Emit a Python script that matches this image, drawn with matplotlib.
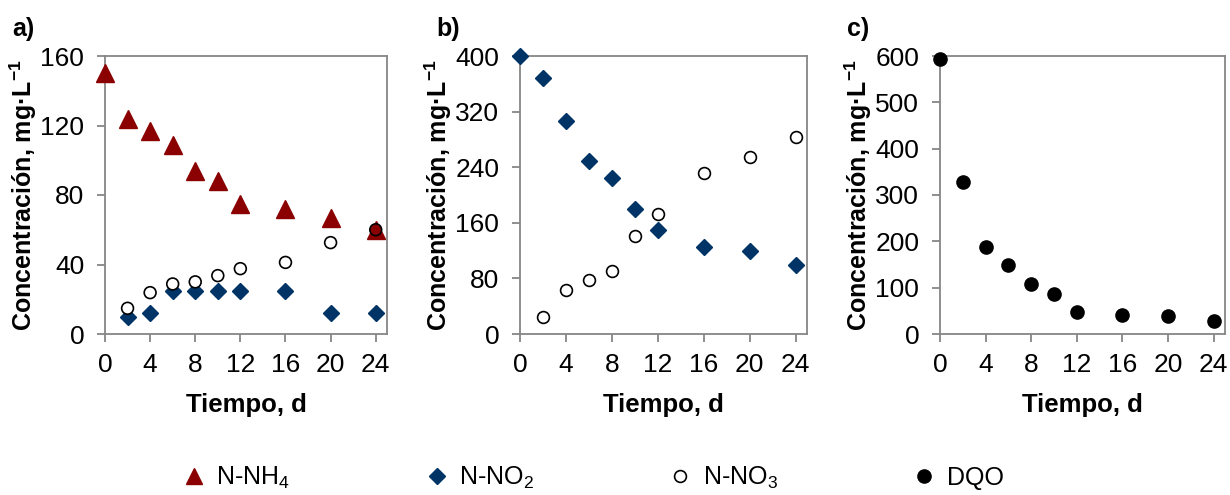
import matplotlib
matplotlib.use("Agg")
import matplotlib.pyplot as plt
from matplotlib.lines import Line2D

plt.rcParams['font.family'] = ['Liberation Sans', 'DejaVu Sans']
plt.rcParams['mathtext.fontset'] = 'custom'
plt.rcParams['mathtext.rm'] = 'Liberation Sans'
plt.rcParams['mathtext.it'] = 'Liberation Sans:italic'
plt.rcParams['mathtext.bf'] = 'Liberation Sans:bold'

# ---- data ----
t_a = [0, 2, 4, 6, 8, 10, 12, 16, 20, 24]
nh4_a = [150, 123.5, 117, 109, 94, 88, 75, 72, 66.6, 60]
t_a2 = [2, 4, 6, 8, 10, 12, 16, 20, 24]
no2_a = [9.6, 12.3, 24.7, 24.7, 24.7, 24.7, 24.7, 12.3, 12.3]
no3_a = [14.8, 23.8, 28.8, 30, 33.6, 37.6, 41.2, 52.6, 60]

t_b = [0, 2, 4, 6, 8, 10, 12, 16, 20, 24]
no2_b = [400, 368, 306, 249, 224, 180, 150, 125, 119, 99]
t_b2 = [2, 4, 6, 8, 10, 12, 16, 20, 24]
no3_b = [25, 63, 77, 90, 141, 173, 232, 254, 283]

t_c = [0, 2, 4, 6, 8, 10, 12, 16, 20, 24]
dqo_c = [594, 328, 188, 150, 107, 87, 47, 41, 39, 29]

x_ticks = [0, 4, 8, 12, 16, 20, 24]
y_ticks_a = [0, 40, 80, 120, 160]
y_ticks_b = [0, 80, 160, 240, 320, 400]
y_ticks_c = [0, 100, 200, 300, 400, 500, 600]
panel_labels = ['a)', 'b)', 'c)']
legend_labels = [r'N-NH$_4$', r'N-NO$_2$', r'N-NO$_3$', 'DQO']

RED = '#8B0000'
BLUE = '#003366'
FRAME = '#868686'

fig = plt.figure(figsize=(12.3, 4.95), dpi=100)
W, H = 1230, 495

def make_ax(left_px, right_px):
    return fig.add_axes([left_px / W, 1 - 334 / H, (right_px - left_px) / W, (334 - 56) / H])

axa = make_ax(105, 387)
axb = make_ax(520, 807)
axc = make_ax(940, 1225)

ms_tri = 12.5
ms_dia = 8
ms_circ = 8.5
ms_dot = 9.5

# panel a
axa.plot(t_a, nh4_a, linestyle='none', marker='^', ms=ms_tri, color=RED, mec=RED, clip_on=False, zorder=3)
axa.plot(t_a2, no2_a, linestyle='none', marker='D', ms=ms_dia, color=BLUE, mec=BLUE, clip_on=False, zorder=3)
faces_a = ['white'] * (len(no3_a) - 1) + [RED]
axa.scatter(t_a2, no3_a, s=ms_circ ** 2, facecolors=faces_a, edgecolors='black', linewidths=1.2, clip_on=False, zorder=4)

# panel b
axb.plot(t_b, no2_b, linestyle='none', marker='D', ms=ms_dia, color=BLUE, mec=BLUE, clip_on=False, zorder=3)
axb.plot(t_b2, no3_b, linestyle='none', marker='o', ms=ms_circ, mfc='white', mec='black', mew=1.2, clip_on=False, zorder=3)

# panel c
axc.plot(t_c, dqo_c, linestyle='none', marker='o', ms=ms_dot, color='black', clip_on=False, zorder=3)

for ax, yt in [(axa, y_ticks_a), (axb, y_ticks_b), (axc, y_ticks_c)]:
    ax.set_xlim(0, 25)
    ax.set_ylim(0, yt[-1])
    ax.set_xticks(x_ticks)
    ax.set_yticks(yt)
    for sp in ax.spines.values():
        sp.set_color(FRAME)
        sp.set_linewidth(1.3)
    ax.tick_params(axis='both', direction='out', length=6, width=1.3, color=FRAME,
                   labelsize=19, labelcolor='black')
    ax.tick_params(axis='x', pad=8)
    ax.tick_params(axis='y', pad=9)
    ax.set_xlabel('Tiempo, d', fontsize=18.5, fontweight='bold', labelpad=11)
    ax.set_ylabel(r'Concentración, mg·L$^{\mathbf{-1}}$', fontsize=18, fontweight='bold', labelpad=1)

fig.text(12 / W, 1 - 29 / H, panel_labels[0], fontsize=18, fontweight='bold', va='center', ha='left')
fig.text(436 / W, 1 - 29 / H, panel_labels[1], fontsize=18, fontweight='bold', va='center', ha='left')
fig.text(847 / W, 1 - 29 / H, panel_labels[2], fontsize=18, fontweight='bold', va='center', ha='left')

handles = [
    Line2D([], [], linestyle='none', marker='^', ms=11, color=RED),
    Line2D([], [], linestyle='none', marker='D', ms=8, color=BLUE),
    Line2D([], [], linestyle='none', marker='o', ms=8.5, mfc='white', mec='black', mew=1.2),
    Line2D([], [], linestyle='none', marker='o', ms=9.5, color='black'),
]
fig.legend(handles, legend_labels, loc='center left', bbox_to_anchor=(184 / W, 1 - 478 / H),
           ncol=4, frameon=False, fontsize=18, handlelength=0.8, handletextpad=0.5,
           columnspacing=5.45, borderpad=0, borderaxespad=0)

fig.savefig('out.png', dpi=100)
